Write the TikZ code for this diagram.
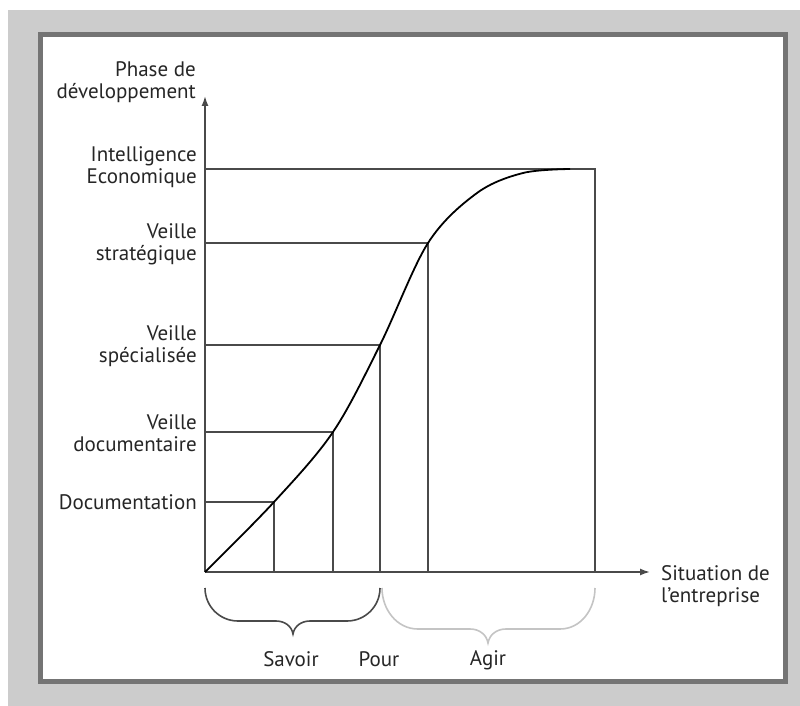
\documentclass[tikz,border=0pt]{standalone}
\usepackage{fontspec}
\setmainfont{PT Sans}
\usetikzlibrary{arrows.meta}
\definecolor{bggray}{HTML}{CCCCCC}
\definecolor{framegray}{HTML}{747474}
\definecolor{linegray}{HTML}{4A4A4A}
\definecolor{txtgray}{HTML}{262626}
\definecolor{lightbrace}{HTML}{C4C4C4}
\begin{document}
\begin{tikzpicture}[x=1pt,y=-1pt,
  guide/.style={draw=linegray, line width=1.6pt},
  axisline/.style={draw=linegray, line width=1.6pt, -{Latex[length=10pt,width=7pt]}},
  curveline/.style={draw=black, line width=1.8pt},
  bracedark/.style={draw=linegray, line width=1.6pt},
  bracelight/.style={draw=lightbrace, line width=1.6pt},
  lbl/.style={font=\fontsize{21}{22}\selectfont, text=txtgray, inner sep=0pt},
  ylbl/.style={lbl, align=right, anchor=east},
]
% page and panel
\useasboundingbox (0,0) rectangle (800,706);
\fill[white] (0,0) rectangle (800,706);
\fill[bggray] (8,10) rectangle (800,706);
\filldraw[fill=white, draw=framegray, line width=5pt] (40,35) rectangle (785,681);

% axes
\coordinate (O) at (205,572);
\coordinate (ytop) at (205,96);
\coordinate (xend) at (650,572);
\draw[axisline] (O) -- (ytop);
\draw[axisline] (O) -- (xend);

% points on the curve
\coordinate (p1) at (274,502);
\coordinate (p2) at (333,432);
\coordinate (p3) at (380,345);
\coordinate (p4) at (428,243);
\coordinate (p5) at (595,169);
% feet on the axes
\coordinate (y1) at (205,502);
\coordinate (y2) at (205,432);
\coordinate (y3) at (205,345);
\coordinate (y4) at (205,243);
\coordinate (y5) at (205,169);
\coordinate (x1) at (274,572);
\coordinate (x2) at (333,572);
\coordinate (x3) at (380,572);
\coordinate (x4) at (428,572);
\coordinate (x5) at (595,572);

% guide lines
\foreach \i in {1,...,5}{
  \draw[guide] (y\i) -- (p\i) -- (x\i);
}

% development curve
\draw[curveline] plot[smooth, tension=0.55] coordinates
  {(205,572) (274,502) (333,432) (380,345) (428,243) (477,193) (523,173) (570,169)};

% braces
\draw[bracedark] (205,588) to[out=-90,in=180] (238,621) -- (276,621)
  to[out=0,in=100] (293,634) to[out=80,in=180] (310,621) -- (347,621)
  to[out=0,in=-90] (380,588);
\draw[bracelight] (382,588) to[out=-90,in=180] (418,629) -- (470,629)
  to[out=0,in=100] (488,643) to[out=80,in=180] (506,629) -- (560,629)
  to[out=0,in=-90] (595,588);

% axis titles
\node[ylbl] (ttly) at (196,82) {Phase de\\développement};
\node[lbl, align=left, anchor=west] (ttlx) at (661,586) {Situation de\\l'entreprise};

% level labels
\node[ylbl] (l5) at (197,167) {Intelligence\\Economique};
\node[ylbl] (l4) at (197,244) {Veille\\stratégique};
\node[ylbl] (l3) at (197,346) {Veille\\spécialisée};
\node[ylbl] (l2) at (197,433) {Veille\\documentaire};
\node[ylbl] (l1) at (197,502) {Documentation};

% brace labels
\node[lbl] (sav) at (291,659) {Savoir};
\node[lbl] (pour) at (379,659) {Pour};
\node[lbl] (agir) at (488,660) {Agir};
\end{tikzpicture}
\end{document}
